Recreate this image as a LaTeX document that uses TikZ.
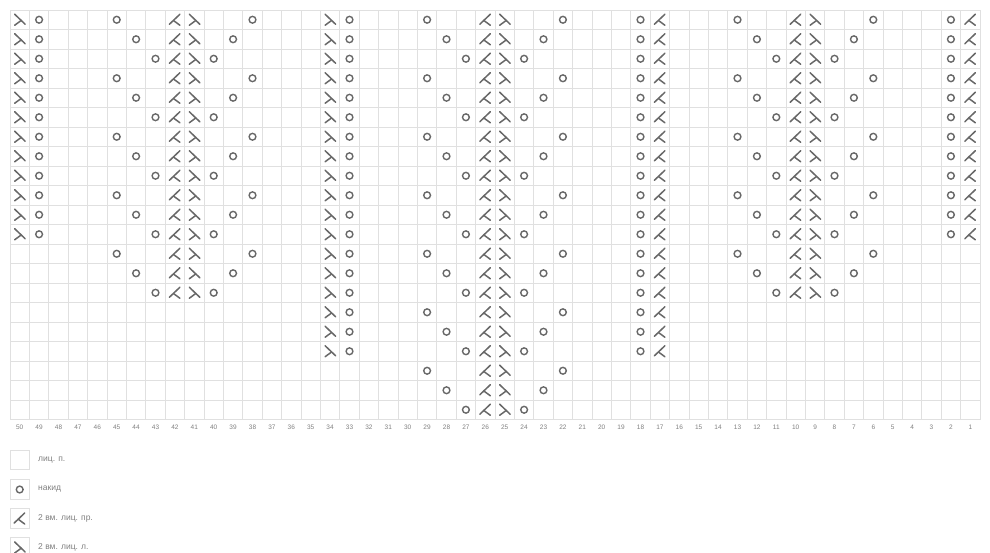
\documentclass[tikz,border=0pt]{standalone}
\usepackage{fontspec}
\setmainfont{Liberation Sans}
\definecolor{gridcol}{HTML}{E0E0E0}
\definecolor{symcol}{HTML}{686868}
\definecolor{labcol}{HTML}{808080}
\tikzset{
  gridline/.style={draw=gridcol, line width=0.8pt},
  stitch/.style={draw=symcol, line width=1.5pt, line cap=round, line join=round},
  yoshape/.style={draw=symcol, line width=1.4pt},
  colnum/.style={text=labcol, font=\fontsize{6.5}{7}\selectfont, inner sep=0pt},
  legtext/.style={text=labcol, font=\fontsize{8.5}{10}\selectfont, anchor=west, inner sep=0pt},
  legbox/.style={draw=gridcol, line width=0.8pt},
  cell/.style 2 args={shift={({10+(50.5-#1)*19.4},{10+(#2-0.5)*19.5})}},
  yo/.pic={\draw[yoshape] (0,0) circle (3.4);},
  decl/.pic={\draw[stitch] (5,-5.5) -- (-5.5,4.5); \draw[stitch] (-1.5,0.7) -- (5,5.5);},
  decr/.pic={\draw[stitch] (-5,-5.5) -- (5.5,4.5); \draw[stitch] (1.5,0.7) -- (-5,5.5);},
}
\begin{document}
\begin{tikzpicture}[x=1pt,y=-1pt]
\useasboundingbox (0,0) rectangle (990,552);
\clip (0,0) rectangle (990,552);
\fill[white] (0,0) rectangle (990,552);
% grid
\foreach \i in {0,...,50} \draw[gridline] ({10+\i*19.4},10) -- ({10+\i*19.4},419.5);
\foreach \j in {0,...,21} \draw[gridline] (10,{10+\j*19.5}) -- (980,{10+\j*19.5});
% column numbers
\foreach \cn in {1,...,50} \node[colnum] (n\cn) at ({10+(50.5-\cn)*19.4},427) {\cn};
% edge columns
\foreach \rn in {1,...,12} {
  \pic[cell={50}{\rn}] {decr};
  \pic[cell={49}{\rn}] {yo};
  \pic[cell={2}{\rn}] {yo};
  \pic[cell={1}{\rn}] {decl};
}
\foreach \rn in {1,...,18} {
  \pic[cell={34}{\rn}] {decr};
  \pic[cell={33}{\rn}] {yo};
  \pic[cell={18}{\rn}] {yo};
  \pic[cell={17}{\rn}] {decl};
}
% motifs
\foreach \p/\rmax in {42/15, 26/21, 10/15} {
  \foreach \rn in {1,...,\rmax} {
    \pgfmathtruncatemacro\kk{mod(\rn-1,3)}
    \pgfmathtruncatemacro\oa{\p+3-\kk}
    \pgfmathtruncatemacro\ob{\p-4+\kk}
    \pgfmathtruncatemacro\qq{\p-1}
    \pic[cell={\p}{\rn}] {decl};
    \pic[cell={\qq}{\rn}] {decr};
    \pic[cell={\oa}{\rn}] {yo};
    \pic[cell={\ob}{\rn}] {yo};
  }
}
% legend
\draw[legbox] (10,450.3) rectangle (29.4,469.7);
\draw[legbox] (10,479.8) rectangle (29.4,499.2);
\draw[legbox] (10,508.8) rectangle (29.4,528.2);
\draw[legbox] (10,537.8) rectangle (29.4,557.2);
\pic at (19.7,489.5) {yo};
\pic at (19.7,518.5) {decl};
\pic at (19.7,547.5) {decr};
\node[legtext] (l1) at (38,460) {лиц. п.};
\node[legtext] (l2) at (38,489.5) {накид};
\node[legtext] (l3) at (38,518.5) {2 вм. лиц. пр.};
\node[legtext] (l4) at (38,547.5) {2 вм. лиц. л.};
\end{tikzpicture}
\end{document}
